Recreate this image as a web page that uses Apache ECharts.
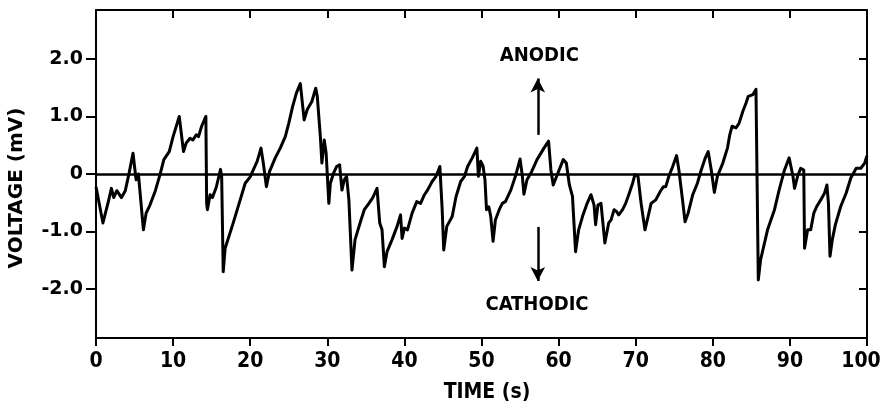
<!DOCTYPE html>
<html>
<head>
<meta charset="utf-8">
<script src="https://cdn.jsdelivr.net/npm/echarts@6/dist/echarts.min.js"></script>
<style>
html,body{margin:0;padding:0;background:#fff;}
#chart{width:882px;height:407px;}
</style>
</head>
<body>
<div id="chart"></div>
<script>
// ---- data ----
const timeS = [0.0,0.9,1.6,2.0,2.3,2.7,3.3,3.8,4.3,4.8,5.2,5.5,6.15,6.5,7.0,7.7,8.3,8.8,9.5,10.0,10.8,11.35,11.7,12.2,12.55,13.0,13.3,13.7,14.25,14.35,14.45,14.8,15.1,15.6,16.15,16.3,16.5,16.75,17.8,18.7,19.35,20.0,20.4,20.9,21.4,21.7,22.1,22.5,23.25,23.9,24.55,25.0,25.5,26.0,26.5,27.0,27.4,28.0,28.5,28.7,29.1,29.3,29.6,29.85,30.2,30.4,30.8,31.2,31.6,31.9,32.2,32.5,32.8,33.2,33.6,34.3,34.8,35.4,35.9,36.45,36.8,37.1,37.4,37.75,38.4,39.05,39.5,39.7,40.0,40.4,41.0,41.6,42.1,42.6,43.0,43.6,44.1,44.6,44.9,45.1,45.5,46.2,46.7,47.3,47.8,48.2,48.8,49.4,49.6,49.9,50.2,50.45,50.65,50.95,51.2,51.5,51.8,52.3,52.7,53.1,53.8,54.4,55.0,55.3,55.5,55.9,56.5,57.2,58.1,58.7,59.0,59.3,59.75,60.0,60.6,61.0,61.4,61.8,62.2,62.6,63.1,63.7,64.2,64.6,64.8,65.1,65.5,66.0,66.5,66.8,67.2,67.5,67.8,68.3,68.7,69.1,69.6,69.9,70.3,70.7,71.2,71.5,72.0,72.6,73.2,73.6,73.9,74.3,74.8,75.3,75.6,76.1,76.4,76.8,77.4,78.0,78.5,79.0,79.4,79.8,80.2,80.6,81.3,81.9,82.2,82.5,83.0,83.4,83.9,84.1,84.3,84.6,85.2,85.6,85.9,86.2,87.1,88.0,88.6,89.3,89.9,90.4,90.6,91.0,91.4,91.8,91.9,92.3,92.7,93.1,93.5,94.0,94.5,94.8,95.0,95.2,95.5,95.9,96.6,97.3,97.9,98.6,99.2,99.7,100.0];
const voltageMV = [-0.22,-0.85,-0.48,-0.25,-0.41,-0.29,-0.41,-0.29,0.02,0.36,-0.1,0.0,-0.97,-0.68,-0.54,-0.29,-0.01,0.25,0.39,0.65,1.0,0.39,0.54,0.62,0.59,0.68,0.65,0.83,1.0,-0.51,-0.62,-0.36,-0.41,-0.23,0.08,-0.05,-1.7,-1.29,-0.85,-0.45,-0.16,-0.05,0.07,0.22,0.45,0.19,-0.22,0.04,0.28,0.45,0.65,0.88,1.17,1.41,1.57,0.94,1.12,1.26,1.49,1.35,0.65,0.19,0.59,0.36,-0.51,-0.16,0.01,0.13,0.16,-0.28,-0.1,-0.04,-0.45,-1.67,-1.14,-0.83,-0.62,-0.51,-0.41,-0.25,-0.85,-0.97,-1.61,-1.35,-1.14,-0.91,-0.71,-1.12,-0.94,-0.97,-0.68,-0.48,-0.51,-0.36,-0.28,-0.13,-0.04,0.13,-0.62,-1.32,-0.91,-0.74,-0.39,-0.13,-0.04,0.13,0.28,0.45,-0.04,0.22,0.14,-0.1,-0.62,-0.57,-0.74,-1.17,-0.8,-0.62,-0.51,-0.48,-0.28,-0.04,0.26,-0.04,-0.35,-0.1,0.04,0.25,0.45,0.57,0.07,-0.19,-0.04,-0.01,0.25,0.19,-0.19,-0.39,-1.35,-0.97,-0.74,-0.51,-0.36,-0.54,-0.88,-0.54,-0.51,-1.2,-0.85,-0.8,-0.62,-0.65,-0.71,-0.62,-0.51,-0.36,-0.16,-0.01,-0.04,-0.51,-0.97,-0.8,-0.51,-0.45,-0.3,-0.22,-0.22,-0.04,0.13,0.32,0.07,-0.48,-0.83,-0.68,-0.36,-0.16,0.07,0.27,0.39,0.07,-0.32,-0.04,0.19,0.45,0.68,0.83,0.8,0.88,1.09,1.1,1.23,1.35,1.38,1.47,-1.84,-1.49,-0.97,-0.62,-0.28,0.07,0.28,-0.04,-0.25,-0.04,0.1,0.07,-1.29,-0.97,-0.97,-0.68,-0.56,-0.45,-0.33,-0.19,-0.51,-1.43,-1.14,-0.88,-0.56,-0.33,-0.07,0.1,0.1,0.19,0.32];
const xTickValues = [0,10,20,30,40,50,60,70,80,90,100];
const xInnerTickValues = [10,20,30,40,50,60,70,80,90];
const yTickValues = [-2,-1,0,1,2];
const yInnerTickValues = [-2,-1,1,2];
const yTickLabels = ['-2.0','-1.0','0','1.0','2.0'];
const anodicLabel = {text:'ANODIC', t:57.5, v:2.06};
const cathodicLabel = {text:'CATHODIC', t:57.2, v:-2.28};
const anodicArrow = {t:57.3, from:0.68, to:1.66};
const cathodicArrow = {t:57.3, from:-0.92, to:-1.86};

// ---- chart ----
const narrow = "'DejaVu Sans Condensed','DejaVu Sans',sans-serif";
const wide = "'DejaVu Sans',sans-serif";
const ink = '#000';
const chart = echarts.init(document.getElementById('chart'), null, {renderer:'canvas'});
const seriesData = timeS.map((t,i)=>[t, voltageMV[i]]);
const xMax = xTickValues[xTickValues.length-1];

chart.setOption({
  backgroundColor:'#fff',
  animation:false,
  grid:{left:96, right:15, top:10, bottom:69, containLabel:false, outerBoundsMode:'none'},
  xAxis:[{
    type:'value', position:'bottom', min:0, max:100, interval:10,
    axisLine:{show:true, onZero:false, lineStyle:{color:ink, width:2}},
    axisTick:{show:true, inside:false, length:8, lineStyle:{color:ink, width:2}},
    axisLabel:{show:true, color:ink, fontFamily:narrow, fontWeight:'bold', fontSize:21, margin:13,
      customValues:xTickValues,
      formatter:v=> v===xMax ? '{last|'+v+'}' : String(v),
      rich:{last:{color:ink, fontFamily:narrow, fontWeight:'bold', fontSize:21, padding:[0,12,0,0]}}},
    splitLine:{show:false},
    name:'TIME (s)', nameLocation:'middle', nameGap:44,
    nameTextStyle:{color:ink, fontFamily:narrow, fontWeight:'bold', fontSize:21, padding:[0,0,0,11]}
  },{
    type:'value', position:'top', min:0, max:100, interval:10,
    axisLine:{show:true, onZero:false, lineStyle:{color:ink, width:2}},
    axisTick:{show:true, inside:true, length:8, customValues:xInnerTickValues, lineStyle:{color:ink, width:2}},
    axisLabel:{show:false},
    splitLine:{show:false}
  }],
  yAxis:[{
    type:'value', position:'left', min:-2.85, max:2.85,
    axisLine:{show:true, onZero:false, lineStyle:{color:ink, width:2}},
    axisTick:{show:true, inside:false, length:10, customValues:yTickValues, lineStyle:{color:ink, width:2}},
    axisLabel:{show:true, color:ink, fontFamily:wide, fontWeight:'bold', fontSize:19, margin:13,
      customValues:yTickValues, formatter:v=>yTickLabels[yTickValues.indexOf(Math.round(v))]},
    splitLine:{show:false},
    name:'VOLTAGE (mV)', nameLocation:'middle', nameGap:69, nameRotate:90,
    nameTextStyle:{color:ink, fontFamily:wide, fontWeight:'bold', fontSize:20, padding:[0,28,0,0]}
  },{
    type:'value', position:'right', min:-2.85, max:2.85,
    axisLine:{show:true, onZero:false, lineStyle:{color:ink, width:2}},
    axisTick:{show:true, inside:true, length:8, customValues:yInnerTickValues, lineStyle:{color:ink, width:2}},
    axisLabel:{show:false},
    splitLine:{show:false}
  }],
  series:[{
    type:'line', xAxisIndex:0, yAxisIndex:0,
    data:seriesData, showSymbol:false, symbol:'none', smooth:false,
    lineStyle:{color:ink, width:3, join:'round'},
    silent:true,
    markLine:{
      silent:true, symbol:['none','none'], label:{show:false},
      lineStyle:{color:ink, width:2.5, type:'solid'},
      data:[{yAxis:0}]
    }
  },{
    type:'line', xAxisIndex:0, yAxisIndex:0, data:[], silent:true,
    markLine:{
      silent:true, symbol:['none','arrow'], symbolSize:[11,14], label:{show:false},
      lineStyle:{color:ink, width:2.5, type:'solid'},
      data:[
        [{coord:[anodicArrow.t, anodicArrow.from]},{coord:[anodicArrow.t, anodicArrow.to]}],
        [{coord:[cathodicArrow.t, cathodicArrow.from]},{coord:[cathodicArrow.t, cathodicArrow.to]}]
      ]
    },
    markPoint:{
      silent:true, symbol:'circle', symbolSize:0,
      label:{show:true, position:'inside', color:ink, fontFamily:narrow, fontWeight:'bold', fontSize:20},
      data:[
        {coord:[anodicLabel.t, anodicLabel.v], value:anodicLabel.text, label:{formatter:anodicLabel.text}},
        {coord:[cathodicLabel.t, cathodicLabel.v], value:cathodicLabel.text, label:{formatter:cathodicLabel.text}}
      ]
    }
  }]
});
</script>
</body>
</html>
